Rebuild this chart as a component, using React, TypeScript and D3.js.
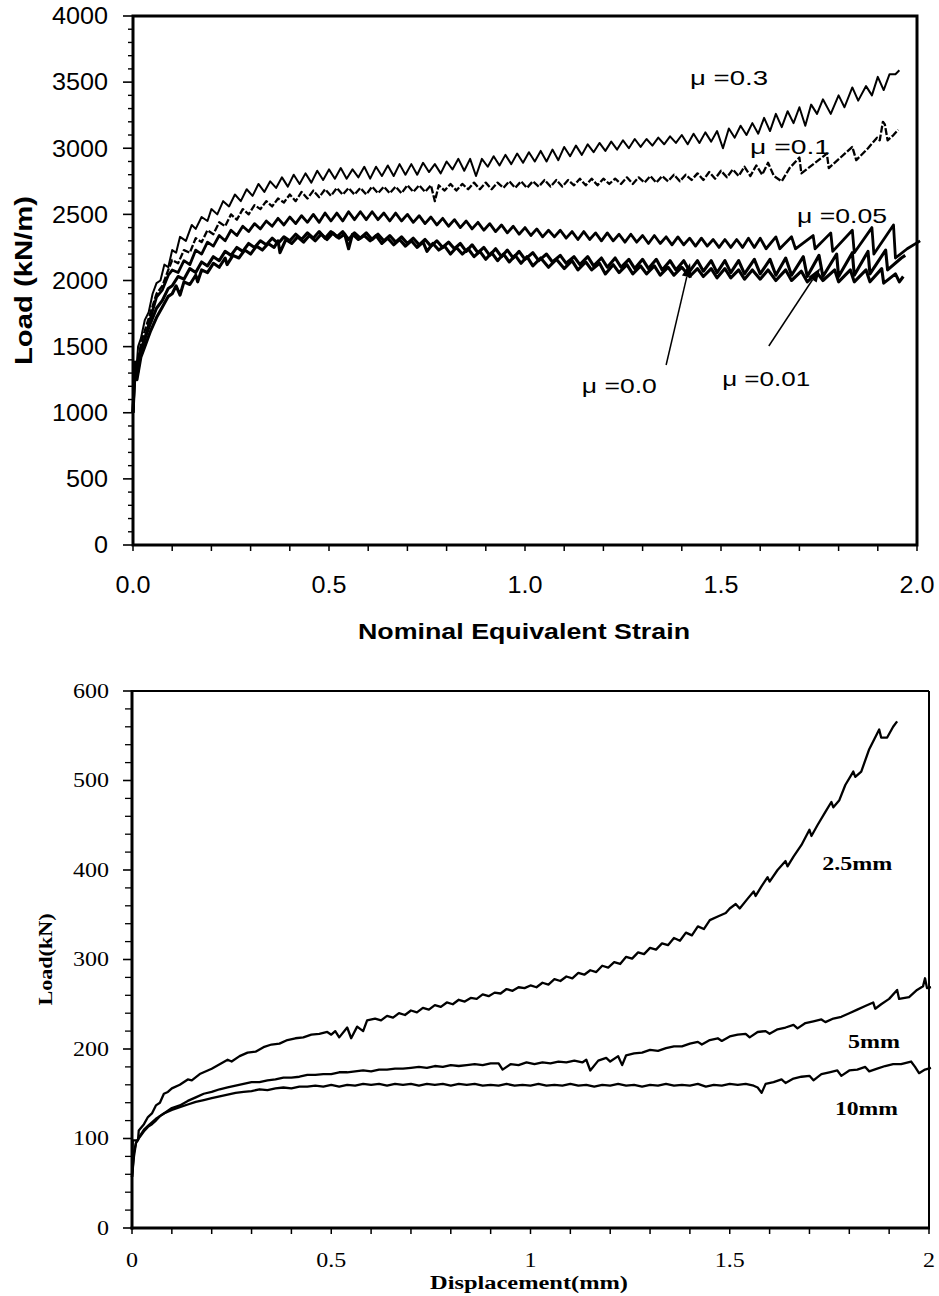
import React from "react";
import * as d3 from "d3";

type P = [number, number];

// ---------- Top chart data: Load (kN/m) vs Nominal Equivalent Strain ----------
const topXTicks = [0, 0.5, 1.0, 1.5, 2.0];
const topYTicks = [0, 500, 1000, 1500, 2000, 2500, 3000, 3500, 4000];

const mu03: P[] = [[0,1000],[0.004,1380],[0.008,1300],[0.013,1500],[0.02,1560],[0.03,1700],[0.04,1760],[0.05,1900],[0.06,1980],[0.07,2000],[0.08,2120],[0.09,2100],[0.1,2230],[0.11,2210],[0.12,2330],[0.135,2300],[0.15,2420],[0.16,2390],[0.175,2480],[0.19,2450],[0.2,2540],[0.215,2500],[0.23,2600],[0.245,2560],[0.26,2650],[0.275,2600],[0.29,2690],[0.305,2640],[0.32,2730],[0.335,2670],[0.35,2750],[0.365,2700],[0.38,2780],[0.395,2710],[0.41,2800],[0.425,2730],[0.44,2810],[0.455,2740],[0.47,2830],[0.485,2760],[0.5,2840],[0.515,2770],[0.53,2850],[0.545,2770],[0.56,2840],[0.575,2780],[0.59,2860],[0.605,2770],[0.62,2860],[0.635,2790],[0.65,2870],[0.665,2790],[0.68,2880],[0.695,2800],[0.71,2880],[0.725,2800],[0.74,2890],[0.755,2820],[0.77,2880],[0.785,2810],[0.8,2900],[0.815,2840],[0.83,2920],[0.845,2830],[0.86,2920],[0.875,2790],[0.89,2920],[0.905,2860],[0.92,2940],[0.935,2870],[0.95,2950],[0.965,2880],[0.98,2960],[0.995,2890],[1.01,2970],[1.025,2900],[1.04,2980],[1.055,2900],[1.07,2990],[1.085,2910],[1.1,3010],[1.115,2940],[1.13,3020],[1.145,2950],[1.16,3030],[1.175,2970],[1.19,3040],[1.205,2980],[1.22,3050],[1.235,2990],[1.25,3060],[1.265,3000],[1.28,3070],[1.295,3010],[1.31,3070],[1.325,3020],[1.34,3080],[1.355,3030],[1.37,3090],[1.385,3040],[1.4,3100],[1.415,3030],[1.43,3110],[1.445,3040],[1.46,3120],[1.475,3050],[1.49,3130],[1.505,3000],[1.52,3150],[1.535,3080],[1.55,3170],[1.565,3100],[1.58,3190],[1.595,3110],[1.61,3230],[1.625,3130],[1.64,3260],[1.655,3160],[1.67,3280],[1.685,3190],[1.7,3310],[1.715,3170],[1.73,3330],[1.745,3260],[1.76,3370],[1.78,3260],[1.8,3400],[1.815,3310],[1.835,3460],[1.85,3360],[1.87,3470],[1.885,3400],[1.9,3540],[1.915,3440],[1.93,3560],[1.945,3560],[1.955,3590]];

const mu01: P[] = [[0,1000],[0.005,1400],[0.01,1330],[0.02,1520],[0.03,1620],[0.045,1760],[0.06,1900],[0.075,1960],[0.09,2080],[0.1,2155],[0.115,2130],[0.13,2230],[0.145,2210],[0.16,2320],[0.175,2290],[0.19,2380],[0.205,2350],[0.22,2440],[0.235,2410],[0.25,2500],[0.265,2460],[0.28,2540],[0.295,2500],[0.31,2570],[0.325,2540],[0.34,2600],[0.355,2560],[0.37,2620],[0.385,2590],[0.4,2650],[0.415,2600],[0.43,2670],[0.445,2620],[0.46,2680],[0.475,2630],[0.49,2690],[0.505,2640],[0.52,2700],[0.535,2650],[0.55,2700],[0.565,2650],[0.58,2700],[0.595,2650],[0.61,2710],[0.625,2660],[0.64,2710],[0.655,2660],[0.67,2710],[0.685,2660],[0.7,2720],[0.715,2670],[0.73,2720],[0.745,2670],[0.76,2720],[0.77,2600],[0.78,2720],[0.795,2680],[0.81,2730],[0.825,2680],[0.84,2730],[0.855,2690],[0.87,2740],[0.885,2690],[0.9,2740],[0.915,2690],[0.93,2740],[0.945,2700],[0.96,2750],[0.975,2700],[0.99,2750],[1.005,2700],[1.02,2750],[1.035,2710],[1.05,2760],[1.065,2710],[1.08,2760],[1.095,2710],[1.11,2760],[1.125,2720],[1.14,2770],[1.155,2720],[1.17,2770],[1.185,2720],[1.2,2770],[1.215,2730],[1.23,2770],[1.245,2730],[1.26,2780],[1.275,2730],[1.29,2780],[1.305,2740],[1.32,2790],[1.335,2740],[1.35,2790],[1.365,2750],[1.38,2800],[1.395,2750],[1.41,2800],[1.425,2760],[1.44,2810],[1.455,2760],[1.47,2820],[1.485,2770],[1.5,2830],[1.515,2780],[1.53,2840],[1.545,2790],[1.56,2860],[1.575,2790],[1.59,2870],[1.605,2800],[1.62,2890],[1.635,2790],[1.655,2750],[1.675,2850],[1.7,2930],[1.705,2810],[1.74,2890],[1.77,2960],[1.775,2850],[1.805,2930],[1.835,3010],[1.845,2910],[1.875,3000],[1.898,3080],[1.905,3060],[1.913,3200],[1.918,3180],[1.925,3060],[1.94,3100],[1.952,3140]];

const mu005: P[] = [[0,1000],[0.005,1350],[0.012,1300],[0.02,1460],[0.03,1560],[0.045,1720],[0.06,1875],[0.075,1930],[0.09,2040],[0.1,2079],[0.115,2060],[0.13,2150],[0.145,2120],[0.16,2230],[0.175,2200],[0.19,2290],[0.205,2260],[0.22,2340],[0.235,2300],[0.25,2380],[0.265,2340],[0.28,2410],[0.295,2370],[0.31,2430],[0.325,2390],[0.34,2450],[0.355,2410],[0.37,2470],[0.385,2420],[0.4,2480],[0.415,2430],[0.43,2490],[0.445,2440],[0.46,2500],[0.475,2440],[0.49,2510],[0.505,2450],[0.52,2510],[0.535,2450],[0.55,2520],[0.565,2460],[0.58,2520],[0.595,2460],[0.61,2520],[0.625,2460],[0.64,2510],[0.655,2450],[0.67,2510],[0.685,2450],[0.7,2500],[0.715,2440],[0.73,2490],[0.745,2430],[0.76,2480],[0.775,2420],[0.79,2470],[0.805,2410],[0.82,2460],[0.835,2400],[0.85,2450],[0.865,2390],[0.88,2440],[0.895,2380],[0.91,2430],[0.925,2370],[0.94,2420],[0.955,2360],[0.97,2410],[0.985,2350],[1.0,2400],[1.015,2340],[1.03,2390],[1.045,2330],[1.06,2380],[1.075,2330],[1.09,2380],[1.105,2320],[1.12,2370],[1.135,2310],[1.15,2370],[1.165,2310],[1.18,2360],[1.195,2300],[1.21,2360],[1.225,2300],[1.24,2350],[1.255,2290],[1.27,2350],[1.285,2290],[1.3,2340],[1.315,2280],[1.33,2340],[1.345,2280],[1.36,2330],[1.375,2270],[1.39,2330],[1.405,2270],[1.42,2320],[1.435,2260],[1.45,2320],[1.465,2260],[1.48,2310],[1.495,2250],[1.51,2310],[1.525,2250],[1.54,2310],[1.555,2250],[1.57,2320],[1.585,2250],[1.6,2320],[1.615,2240],[1.64,2330],[1.65,2240],[1.68,2330],[1.69,2240],[1.735,2340],[1.74,2240],[1.78,2360],[1.785,2220],[1.835,2380],[1.84,2210],[1.885,2400],[1.89,2200],[1.94,2420],[1.945,2170],[1.975,2240],[2.008,2300]];

const mu001: P[] = [[0,1000],[0.005,1300],[0.012,1380],[0.02,1480],[0.03,1560],[0.045,1680],[0.06,1790],[0.075,1850],[0.09,1940],[0.1,1960],[0.115,2030],[0.13,2010],[0.145,2090],[0.16,2060],[0.175,2140],[0.19,2110],[0.205,2180],[0.22,2150],[0.235,2220],[0.25,2190],[0.265,2250],[0.28,2220],[0.295,2280],[0.31,2250],[0.325,2300],[0.34,2270],[0.355,2320],[0.37,2280],[0.385,2330],[0.4,2300],[0.415,2350],[0.43,2310],[0.445,2360],[0.46,2320],[0.475,2370],[0.49,2320],[0.505,2370],[0.52,2330],[0.535,2370],[0.55,2310],[0.565,2360],[0.58,2320],[0.595,2360],[0.61,2310],[0.625,2350],[0.64,2300],[0.655,2340],[0.67,2290],[0.685,2330],[0.7,2280],[0.715,2320],[0.73,2270],[0.745,2310],[0.76,2260],[0.775,2300],[0.79,2250],[0.805,2290],[0.82,2240],[0.835,2280],[0.85,2220],[0.865,2270],[0.88,2210],[0.895,2250],[0.91,2190],[0.925,2240],[0.94,2180],[0.955,2230],[0.97,2170],[0.985,2220],[1.0,2160],[1.02,2210],[1.035,2150],[1.055,2200],[1.07,2140],[1.09,2190],[1.105,2130],[1.125,2180],[1.14,2120],[1.16,2180],[1.175,2110],[1.195,2170],[1.21,2100],[1.23,2170],[1.245,2100],[1.265,2160],[1.28,2090],[1.3,2160],[1.315,2090],[1.335,2160],[1.35,2080],[1.37,2150],[1.385,2080],[1.405,2150],[1.42,2070],[1.44,2150],[1.455,2070],[1.475,2150],[1.49,2060],[1.51,2150],[1.525,2060],[1.545,2150],[1.56,2050],[1.585,2160],[1.6,2050],[1.625,2160],[1.64,2040],[1.665,2170],[1.68,2040],[1.71,2180],[1.72,2030],[1.75,2190],[1.76,2030],[1.795,2200],[1.8,2030],[1.835,2210],[1.84,2040],[1.875,2220],[1.88,2050],[1.92,2230],[1.925,2080],[1.96,2170],[1.97,2190]];

const mu00: P[] = [[0,1000],[0.004,1350],[0.01,1250],[0.02,1420],[0.03,1500],[0.045,1620],[0.06,1720],[0.075,1800],[0.09,1880],[0.1,1900],[0.11,1960],[0.12,1890],[0.13,1990],[0.145,1970],[0.16,2040],[0.165,1990],[0.175,2080],[0.19,2060],[0.205,2130],[0.22,2100],[0.235,2170],[0.24,2120],[0.255,2190],[0.27,2170],[0.285,2230],[0.3,2200],[0.315,2260],[0.33,2230],[0.345,2280],[0.36,2250],[0.37,2300],[0.375,2210],[0.39,2310],[0.405,2280],[0.42,2330],[0.435,2290],[0.45,2340],[0.465,2300],[0.48,2350],[0.495,2310],[0.51,2360],[0.525,2320],[0.54,2350],[0.55,2240],[0.56,2350],[0.575,2310],[0.59,2340],[0.605,2300],[0.62,2340],[0.635,2280],[0.65,2320],[0.665,2270],[0.68,2310],[0.695,2260],[0.71,2300],[0.725,2250],[0.74,2290],[0.75,2220],[0.765,2280],[0.78,2230],[0.795,2260],[0.81,2200],[0.825,2250],[0.84,2200],[0.855,2240],[0.87,2180],[0.885,2220],[0.9,2160],[0.915,2210],[0.93,2150],[0.945,2200],[0.96,2140],[0.975,2190],[0.99,2130],[1.005,2180],[1.02,2110],[1.04,2170],[1.06,2100],[1.08,2160],[1.1,2090],[1.12,2150],[1.135,2080],[1.155,2140],[1.17,2080],[1.19,2130],[1.205,2050],[1.225,2120],[1.24,2060],[1.26,2120],[1.275,2050],[1.295,2110],[1.31,2050],[1.33,2110],[1.345,2040],[1.365,2100],[1.38,2040],[1.4,2100],[1.42,2030],[1.44,2090],[1.455,2030],[1.475,2090],[1.49,2020],[1.51,2090],[1.525,2020],[1.545,2080],[1.56,2010],[1.58,2080],[1.6,2010],[1.62,2080],[1.64,2000],[1.665,2080],[1.68,2000],[1.705,2070],[1.72,1990],[1.745,2060],[1.76,2000],[1.79,2080],[1.8,1990],[1.83,2080],[1.84,1990],[1.87,2080],[1.88,1990],[1.91,2090],[1.915,1980],[1.945,2050],[1.955,1990],[1.965,2030]];

const topSeriesNames = ["μ =0.3", "μ =0.1", "μ =0.05", "μ =0.01", "μ =0.0"];

// ---------- Bottom chart data: Load (kN) vs Displacement (mm) ----------
const botXTicks = [0, 0.5, 1, 1.5, 2];
const botYTicks = [0, 100, 200, 300, 400, 500, 600];

const d25: P[] = [[0,57],[0.002,98],[0.015,98],[0.017,109],[0.03,116],[0.04,124],[0.05,128],[0.06,137],[0.07,140],[0.08,150],[0.09,152],[0.1,156],[0.12,160],[0.14,166],[0.15,165],[0.17,172],[0.19,176],[0.2,178],[0.22,183],[0.24,188],[0.25,186],[0.27,192],[0.29,196],[0.31,197],[0.33,202],[0.35,205],[0.37,206],[0.39,210],[0.41,212],[0.43,213],[0.45,216],[0.47,217],[0.49,219],[0.5,216],[0.51,220],[0.52,213],[0.54,224],[0.55,212],[0.565,225],[0.58,220],[0.59,232],[0.61,234],[0.625,232],[0.64,237],[0.655,235],[0.67,240],[0.685,238],[0.7,243],[0.715,241],[0.73,246],[0.745,244],[0.76,249],[0.775,247],[0.79,252],[0.805,250],[0.82,255],[0.835,253],[0.85,257],[0.865,256],[0.88,261],[0.895,259],[0.91,263],[0.925,262],[0.94,267],[0.955,265],[0.97,269],[0.985,268],[1.0,271],[1.015,269],[1.03,274],[1.045,272],[1.06,278],[1.075,276],[1.09,281],[1.105,279],[1.12,285],[1.135,283],[1.15,288],[1.165,286],[1.18,293],[1.195,291],[1.21,297],[1.225,295],[1.24,303],[1.255,301],[1.27,308],[1.285,306],[1.3,313],[1.315,311],[1.33,318],[1.345,316],[1.36,324],[1.375,321],[1.39,330],[1.405,327],[1.42,337],[1.435,334],[1.45,344],[1.47,348],[1.49,352],[1.5,357],[1.515,362],[1.525,357],[1.545,368],[1.56,376],[1.565,371],[1.58,382],[1.595,392],[1.6,387],[1.62,400],[1.64,410],[1.645,404],[1.66,415],[1.68,428],[1.7,445],[1.705,438],[1.72,450],[1.74,465],[1.755,476],[1.76,470],[1.775,478],[1.79,495],[1.81,510],[1.815,504],[1.83,510],[1.85,535],[1.875,557],[1.88,548],[1.895,548],[1.91,560],[1.92,566]];

const d5: P[] = [[0,57],[0.005,80],[0.01,95],[0.02,102],[0.03,108],[0.04,113],[0.05,116],[0.06,120],[0.07,125],[0.08,128],[0.09,131],[0.1,134],[0.12,137],[0.14,142],[0.16,146],[0.18,150],[0.2,152],[0.22,155],[0.24,157],[0.26,159],[0.28,161],[0.3,163],[0.32,163],[0.34,165],[0.36,166],[0.38,168],[0.4,168],[0.42,169],[0.44,171],[0.46,171],[0.48,172],[0.5,172],[0.52,174],[0.54,174],[0.56,175],[0.58,176],[0.6,175],[0.62,177],[0.64,177],[0.66,178],[0.68,178],[0.7,179],[0.72,180],[0.74,179],[0.76,181],[0.78,180],[0.8,182],[0.82,181],[0.84,182],[0.86,183],[0.88,182],[0.9,184],[0.92,184],[0.93,177],[0.95,183],[0.97,182],[0.99,185],[1.01,183],[1.03,185],[1.05,184],[1.07,186],[1.09,185],[1.11,187],[1.13,185],[1.14,188],[1.15,176],[1.17,187],[1.19,190],[1.2,186],[1.22,192],[1.23,182],[1.24,193],[1.26,195],[1.28,196],[1.3,199],[1.32,198],[1.34,201],[1.36,203],[1.38,203],[1.4,206],[1.42,208],[1.43,205],[1.45,210],[1.47,212],[1.48,209],[1.5,214],[1.52,216],[1.54,217],[1.55,213],[1.57,219],[1.59,220],[1.6,217],[1.62,222],[1.64,224],[1.66,227],[1.67,223],[1.69,229],[1.71,231],[1.73,233],[1.74,230],[1.76,234],[1.78,236],[1.8,240],[1.82,244],[1.84,248],[1.86,252],[1.865,245],[1.88,250],[1.9,256],[1.92,266],[1.925,256],[1.95,258],[1.97,266],[1.985,270],[1.99,279],[1.995,268],[2.005,269]];

const d10: P[] = [[0,57],[0.005,85],[0.01,95],[0.02,103],[0.03,110],[0.04,114],[0.05,118],[0.06,122],[0.07,125],[0.08,128],[0.09,130],[0.1,132],[0.12,135],[0.14,138],[0.16,141],[0.18,143],[0.2,145],[0.22,147],[0.24,149],[0.26,151],[0.28,152],[0.3,153],[0.32,155],[0.34,154],[0.36,156],[0.38,157],[0.4,156],[0.42,158],[0.44,158],[0.46,159],[0.48,158],[0.5,160],[0.52,158],[0.54,160],[0.56,159],[0.58,161],[0.6,160],[0.62,161],[0.64,159],[0.66,161],[0.68,160],[0.7,161],[0.72,159],[0.74,161],[0.76,160],[0.78,161],[0.8,159],[0.82,161],[0.84,160],[0.86,161],[0.88,159],[0.9,160],[0.92,159],[0.94,161],[0.96,159],[0.98,160],[1.0,159],[1.02,161],[1.04,159],[1.06,160],[1.08,159],[1.1,161],[1.12,159],[1.14,160],[1.16,158],[1.18,160],[1.2,159],[1.22,161],[1.24,159],[1.26,160],[1.28,158],[1.3,160],[1.32,159],[1.34,161],[1.36,159],[1.38,160],[1.4,159],[1.42,161],[1.44,158],[1.46,160],[1.48,159],[1.5,161],[1.52,160],[1.54,161],[1.56,159],[1.57,157],[1.58,151],[1.59,161],[1.61,163],[1.63,166],[1.64,162],[1.66,167],[1.68,169],[1.7,170],[1.71,165],[1.73,172],[1.75,174],[1.77,176],[1.78,170],[1.8,176],[1.82,177],[1.84,180],[1.85,175],[1.87,178],[1.89,181],[1.91,183],[1.93,183],[1.955,186],[1.965,180],[1.975,173],[1.99,177],[2.005,179]];

const botSeriesNames = ["2.5mm", "5mm", "10mm"];

// ---------- layout ----------
const W = 939;
const H = 1296;
const sansFont = "'Liberation Sans', Arial, Helvetica, sans-serif";
const serifFont = "'Liberation Serif', 'Times New Roman', Times, serif";

// approximate rendered width of a numeric label (digit width, dot width)
const numLen = (s: string, dw: number, pw: number) =>
  s.split("").reduce((a, c) => a + (c === "." ? pw : dw), 0);

export default function App() {
  const tx = d3.scaleLinear().domain([0, 2]).range([133, 917]);
  const ty = d3.scaleLinear().domain([0, 4000]).range([545, 16]);
  const tLine = d3.line<P>().x((d) => tx(d[0])).y((d) => ty(d[1]));

  const bx = d3.scaleLinear().domain([0, 2]).range([132, 929]);
  const by = d3.scaleLinear().domain([0, 600]).range([1228, 691]);
  const bLine = d3.line<P>().x((d) => bx(d[0])).y((d) => by(d[1]));

  const tMinorY = d3.range(0, 4001, 100).filter((v) => v % 500 !== 0);
  const tMinorX = d3.range(0, 21).map((i) => i / 10);
  const bMinorY = d3.range(0, 601, 20).filter((v) => v % 100 !== 0);
  const bMinorX = d3.range(0, 21).map((i) => i / 10);

  const topStyles = [
    { w: 2.0, dash: "none" },
    { w: 2.3, dash: "7 2" },
    { w: 2.8, dash: "none" },
    { w: 3.1, dash: "none" },
    { w: 3.1, dash: "none" },
  ];
  const topData = [mu03, mu01, mu005, mu001, mu00];

  const topLabels = [
    { t: topSeriesNames[0], x: 1.421, y: 3479, len: 78 },
    { t: topSeriesNames[1], x: 1.574, y: 2957, len: 80 },
    { t: topSeriesNames[2], x: 1.694, y: 2435, len: 90 },
    { t: topSeriesNames[4], x: 1.145, y: 1149, len: 75 },
    { t: topSeriesNames[3], x: 1.503, y: 1202, len: 88 },
  ];
  const arrows = [
    { x1: 1.36, y1: 1361, x2: 1.421, y2: 2132 },
    { x1: 1.622, y1: 1505, x2: 1.753, y2: 2094 },
  ];

  const botData = [d25, d5, d10];
  const botLabels = [
    { t: botSeriesNames[0], x: 1.732, y: 400, len: 70 },
    { t: botSeriesNames[1], x: 1.797, y: 201, len: 52 },
    { t: botSeriesNames[2], x: 1.764, y: 126, len: 63 },
  ];

  const arrowHead = (a: { x1: number; y1: number; x2: number; y2: number }) => {
    const X1 = tx(a.x1), Y1 = ty(a.y1), X2 = tx(a.x2), Y2 = ty(a.y2);
    const ang = Math.atan2(Y2 - Y1, X2 - X1);
    const L = 14, Wd = 5;
    const bxp = X2 - L * Math.cos(ang), byp = Y2 - L * Math.sin(ang);
    const px = -Math.sin(ang) * Wd, py = Math.cos(ang) * Wd;
    return {
      line: { X1, Y1, X2: bxp, Y2: byp },
      poly: `${X2},${Y2} ${bxp + px},${byp + py} ${bxp - px},${byp - py}`,
    };
  };

  return (
    <svg
      width={W}
      height={H}
      viewBox={`0 0 ${W} ${H}`}
      style={{ position: "absolute", left: 0, top: 0, background: "#fff" }}
    >
      <rect x={0} y={0} width={W} height={H} fill="#fff" />

      {/* ================= TOP CHART ================= */}
      <g fontFamily={sansFont}>
        <rect x={tx(0)} y={ty(4000)} width={tx(2) - tx(0)} height={ty(0) - ty(4000)} fill="none" stroke="#000" strokeWidth={3} />
        {topYTicks.map((v) => (
          <line key={"tym" + v} x1={tx(0) - 10} x2={tx(0)} y1={ty(v)} y2={ty(v)} stroke="#000" strokeWidth={1.6} />
        ))}
        {tMinorY.map((v) => (
          <line key={"tyn" + v} x1={tx(0) - 5} x2={tx(0)} y1={ty(v)} y2={ty(v)} stroke="#000" strokeWidth={1.4} />
        ))}
        {tMinorX.map((v) => (
          <line key={"tx" + v} x1={tx(v)} x2={tx(v)} y1={ty(0)} y2={ty(0) + 6} stroke="#000" strokeWidth={1.5} />
        ))}
        {topYTicks.map((v) => (
          <text key={"tyl" + v} x={108} y={ty(v)} dy="0.36em" textAnchor="end" fontSize={23}
            textLength={numLen(String(v), 14, 7)} lengthAdjust="spacingAndGlyphs" fill="#000">
            {v}
          </text>
        ))}
        {topXTicks.map((v) => (
          <text key={"txl" + v} x={tx(v)} y={593} textAnchor="middle" fontSize={23}
            textLength={numLen(v.toFixed(1), 14, 7)} lengthAdjust="spacingAndGlyphs" fill="#000">
            {v.toFixed(1)}
          </text>
        ))}
        <text
          transform={`translate(32, ${(ty(0) + ty(4000)) / 2}) rotate(-90)`}
          textAnchor="middle"
          fontSize={23}
          fontWeight="bold"
          textLength={169}
          lengthAdjust="spacingAndGlyphs"
          fill="#000"
        >
          Load (kN/m)
        </text>
        <text x={524} y={639} textAnchor="middle" fontSize={22} fontWeight="bold" textLength={332} lengthAdjust="spacingAndGlyphs" fill="#000">
          Nominal Equivalent Strain
        </text>

        {topData.map((d, i) => (
          <path
            key={"tc" + i}
            d={tLine(d) || ""}
            fill="none"
            stroke="#000"
            strokeWidth={topStyles[i].w}
            strokeDasharray={topStyles[i].dash}
            strokeLinejoin="round"
          />
        ))}

        {topLabels.map((l, i) => (
          <text key={"tl" + i} x={tx(l.x)} y={ty(l.y)} fontSize={21} textLength={l.len} lengthAdjust="spacingAndGlyphs" fill="#000">
            {l.t}
          </text>
        ))}
        {arrows.map((a, i) => {
          const h = arrowHead(a);
          return (
            <g key={"ar" + i}>
              <line x1={h.line.X1} y1={h.line.Y1} x2={h.line.X2} y2={h.line.Y2} stroke="#000" strokeWidth={1.5} />
              <polygon points={h.poly} fill="#000" />
            </g>
          );
        })}
      </g>

      {/* ================= BOTTOM CHART ================= */}
      <g fontFamily={serifFont}>
        <line x1={bx(0)} x2={bx(2)} y1={by(600)} y2={by(600)} stroke="#000" strokeWidth={2} />
        <line x1={bx(2)} x2={bx(2)} y1={by(600)} y2={by(0)} stroke="#000" strokeWidth={2} />
        <line x1={bx(0)} x2={bx(0)} y1={by(600) - 1} y2={by(0) + 1.5} stroke="#000" strokeWidth={3} />
        <line x1={bx(0) - 1.5} x2={bx(2) + 1} y1={by(0)} y2={by(0)} stroke="#000" strokeWidth={3} />
        {botYTicks.map((v) => (
          <line key={"bym" + v} x1={bx(0) - 9} x2={bx(0)} y1={by(v)} y2={by(v)} stroke="#000" strokeWidth={1.6} />
        ))}
        {bMinorY.map((v) => (
          <line key={"byn" + v} x1={bx(0) - 7} x2={bx(0)} y1={by(v)} y2={by(v)} stroke="#000" strokeWidth={1.3} />
        ))}
        {bMinorX.map((v) => (
          <line key={"bx" + v} x1={bx(v)} x2={bx(v)} y1={by(0)} y2={by(0) + 6} stroke="#000" strokeWidth={1.5} />
        ))}
        {botYTicks.map((v) => (
          <text key={"byl" + v} x={109} y={by(v)} dy="0.33em" textAnchor="end" fontSize={20}
            textLength={numLen(String(v), 12, 6)} lengthAdjust="spacingAndGlyphs" fill="#000">
            {v}
          </text>
        ))}
        {botXTicks.map((v) => (
          <text key={"bxl" + v} x={bx(v)} y={1267} textAnchor="middle" fontSize={20}
            textLength={numLen(String(v), 12, 6)} lengthAdjust="spacingAndGlyphs" fill="#000">
            {String(v)}
          </text>
        ))}
        <text
          transform={`translate(52, ${(by(0) + by(600)) / 2}) rotate(-90)`}
          textAnchor="middle"
          fontSize={19}
          fontWeight="bold"
          textLength={92}
          lengthAdjust="spacingAndGlyphs"
          fill="#000"
        >
          Load(kN)
        </text>
        <text x={529} y={1289} textAnchor="middle" fontSize={18} fontWeight="bold" textLength={198} lengthAdjust="spacingAndGlyphs" fill="#000">
          Displacement(mm)
        </text>

        {botData.map((d, i) => (
          <path key={"bc" + i} d={bLine(d) || ""} fill="none" stroke="#000" strokeWidth={2.3} strokeLinejoin="round" />
        ))}
        {botLabels.map((l, i) => (
          <text key={"bl" + i} x={bx(l.x)} y={by(l.y)} fontSize={19} fontWeight="bold" textLength={l.len} lengthAdjust="spacingAndGlyphs" fill="#000">
            {l.t}
          </text>
        ))}
      </g>
    </svg>
  );
}
